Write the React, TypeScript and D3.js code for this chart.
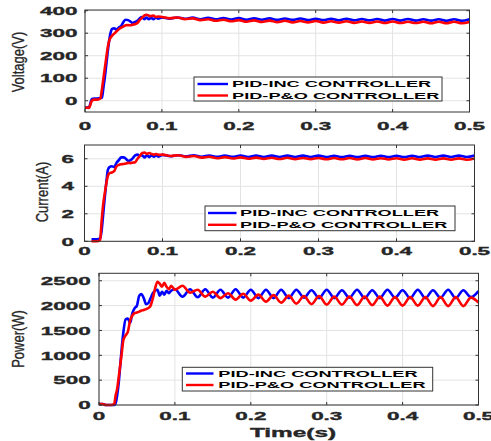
import React from "react";
import * as d3 from "d3";

// ---------- data ----------
const tTransient = [0, 0.005, 0.009, 0.012, 0.016, 0.02, 0.022, 0.024, 0.026, 0.028, 0.03, 0.032, 0.035, 0.038, 0.041, 0.044, 0.047, 0.05, 0.053, 0.056, 0.059, 0.062, 0.065, 0.068, 0.071, 0.074, 0.077, 0.08, 0.083, 0.086, 0.089, 0.092, 0.095];
const tSteady = [0.1, 0.11, 0.12, 0.13, 0.14, 0.15, 0.16, 0.17, 0.18, 0.19, 0.2, 0.21, 0.22, 0.23, 0.24, 0.25, 0.26, 0.27, 0.28, 0.29, 0.3, 0.31, 0.32, 0.33, 0.34, 0.35, 0.36, 0.37, 0.38, 0.39, 0.4, 0.41, 0.42, 0.43, 0.44, 0.45, 0.46, 0.47, 0.48, 0.49, 0.5];

const voltageIncTr = [-30, -30, 8, 10, 10, 12, 14, 60, 110, 170, 230, 280, 318, 322, 316, 325, 332, 350, 360, 358, 352, 345, 350, 355, 365, 372, 362, 370, 362, 368, 362, 370, 364];
const voltagePoTr = [-30, -32, 0, 5, 5, 10, 50, 100, 150, 200, 245, 272, 288, 298, 308, 318, 325, 330, 335, 336, 335, 338, 340, 345, 358, 368, 378, 382, 378, 376, 378, 372, 374];
const voltageIncSt = [370, 364, 370, 364, 369, 362, 368, 362, 367, 361, 367, 360, 366, 360, 366, 359, 365, 359, 365, 358, 364, 358, 364, 357, 364, 357, 363, 357, 363, 356, 363, 356, 363, 356, 362, 356, 362, 355, 362, 355, 362];
const voltagePoSt = [372, 366, 370, 362, 366, 358, 362, 355, 360, 353, 358, 351, 357, 350, 356, 349, 355, 348, 354, 348, 354, 347, 353, 347, 353, 346, 352, 346, 352, 345, 352, 345, 351, 345, 351, 344, 351, 344, 351, 344, 350];

const currentIncTr = [null, null, 0.15, 0.15, 0.15, 0.2, 0.8, 2.0, 3.2, 4.3, 5.2, 5.4, 5.45, 5.4, 5.7, 5.9, 6.1, 6.1, 6.0, 5.85, 5.9, 6.05, 6.25, 6.3, 6.2, 6.25, 6.1, 6.25, 6.12, 6.25, 6.15, 6.25, 6.15];
const currentPoTr = [null, null, 0, 0, 0, 0.1, 1.5, 2.7, 3.5, 4.2, 4.75, 4.95, 5.0, 5.1, 5.45, 5.55, 5.6, 5.62, 5.65, 5.7, 5.68, 5.72, 5.75, 6.0, 6.2, 6.42, 6.45, 6.35, 6.42, 6.35, 6.3, 6.35, 6.28];
const currentIncSt = [6.28, 6.18, 6.26, 6.17, 6.25, 6.15, 6.24, 6.14, 6.24, 6.14, 6.24, 6.13, 6.23, 6.13, 6.23, 6.13, 6.23, 6.12, 6.23, 6.12, 6.23, 6.12, 6.22, 6.12, 6.22, 6.12, 6.22, 6.12, 6.22, 6.12, 6.22, 6.12, 6.22, 6.12, 6.23, 6.12, 6.23, 6.12, 6.23, 6.13, 6.24];
const currentPoSt = [6.3, 6.2, 6.25, 6.14, 6.2, 6.08, 6.15, 6.04, 6.12, 6.02, 6.1, 6.0, 6.08, 5.99, 6.07, 5.98, 6.07, 5.97, 6.06, 5.97, 6.06, 5.96, 6.05, 5.96, 6.05, 5.95, 6.05, 5.95, 6.04, 5.95, 6.04, 5.94, 6.04, 5.94, 6.03, 5.94, 6.03, 5.93, 6.03, 5.93, 6.02];

const powerIncTr = [20, 20, 0, 0, 0, 0, 40, 200, 450, 800, 1150, 1450, 1720, 1740, 1650, 1850, 1950, 2000, 2200, 2230, 2150, 2030, 2050, 2150, 2250, 2300, 2320, 2200, 2280, 2220, 2300, 2250, 2300];
const powerPoTr = [20, 20, 0, 0, 0, 20, 200, 330, 560, 800, 1050, 1300, 1400, 1470, 1700, 1800, 1850, 1860, 1880, 1900, 1910, 1930, 1950, 2000, 2150, 2350, 2480, 2440, 2380, 2460, 2380, 2330, 2400];
const powerIncSt = [2330, 2180, 2330, 2170, 2330, 2160, 2320, 2160, 2330, 2160, 2320, 2150, 2320, 2150, 2320, 2150, 2320, 2160, 2310, 2150, 2320, 2150, 2310, 2160, 2320, 2150, 2310, 2150, 2320, 2160, 2310, 2150, 2320, 2150, 2310, 2160, 2320, 2150, 2310, 2170, 2290];
const powerPoSt = [2320, 2400, 2260, 2320, 2180, 2280, 2150, 2250, 2120, 2240, 2100, 2220, 2080, 2210, 2060, 2200, 2040, 2190, 2030, 2190, 2020, 2180, 2020, 2180, 2010, 2180, 2010, 2180, 2000, 2170, 2000, 2170, 2000, 2170, 1990, 2170, 1990, 2170, 1990, 2160, 2060];

const xTicks = [0, 0.1, 0.2, 0.3, 0.4, 0.5];
const voltageTicks = [0, 100, 200, 300, 400];
const currentTicks = [0, 2, 4, 6];
const powerTicks = [0, 500, 1000, 1500, 2000, 2500];
const legendLabels = ["PID-INC CONTROLLER", "PID-P&O CONTROLLER"];
const seriesColors = ["#0000ff", "#ff0000"];

type Pt = { t: number; v: number | null };
const join = (tr: (number | null)[], st: number[]): Pt[] => [
  ...tTransient.map((t, i) => ({ t, v: tr[i] })),
  ...tSteady.map((t, i) => ({ t, v: st[i] })),
];

// ---------- layout ----------
const SX = 1.95;
const FONT = "'Liberation Sans', Arial, sans-serif";
const panels = [
  {
    ylabel: "Voltage(V)", x0: 85, x1: 469.5, y0: 112, y1: 10, dom: [-50, 403], ticks: voltageTicks,
    series: [join(voltageIncTr, voltageIncSt), join(voltagePoTr, voltagePoSt)],
    labelX: 24, labelY: 62, tickBase: 130, tickRight: 77.5,
    legend: { x: 194, y: 77, w: 248, h: 24, lx0: 197.5, lx1: 228, tx: 232, r1: 84, r2: 95.5 },
  },
  {
    ylabel: "Current(A)", x0: 84.5, x1: 474.5, y0: 241.3, y1: 145, dom: [0, 7], ticks: currentTicks,
    series: [join(currentIncTr, currentIncSt), join(currentPoTr, currentPoSt)],
    labelX: 48, labelY: 192, tickBase: 255, tickRight: 74,
    legend: { x: 205, y: 206, w: 250, h: 24.7, lx0: 208, lx1: 236.5, tx: 240, r1: 213, r2: 224.8 },
  },
  {
    ylabel: "Power(W)", x0: 99, x1: 478.5, y0: 405, y1: 273.3, dom: [0, 2650], ticks: powerTicks,
    series: [join(powerIncTr, powerIncSt), join(powerPoTr, powerPoSt)],
    labelX: 24, labelY: 339, tickBase: 419.5, tickRight: 90.7,
    legend: { x: 182.3, y: 367.3, w: 250.4, h: 23.7, lx0: 186, lx1: 213.5, tx: 218.3, r1: 373.5, r2: 385 },
  },
];

function Panel({ p }: { p: (typeof panels)[number] }) {
  const x = d3.scaleLinear().domain([0, 0.5]).range([p.x0, p.x1]);
  const y = d3.scaleLinear().domain(p.dom).range([p.y0, p.y1]);
  const line = d3
    .line<Pt>()
    .defined((d) => d.v !== null)
    .x((d) => x(d.t))
    .y((d) => y(d.v as number))
    .curve(d3.curveMonotoneX);
  const L = p.legend;
  return (
    <g>
      <rect x={p.x0} y={p.y1} width={p.x1 - p.x0} height={p.y0 - p.y1} fill="#fff" />
      {xTicks.map((t) => (
        <line key={"gx" + t} x1={x(t)} x2={x(t)} y1={p.y0} y2={p.y1} stroke="#e3e3e3" strokeWidth={1} />
      ))}
      {p.ticks.map((v) => (
        <line key={"gy" + v} x1={p.x0} x2={p.x1} y1={y(v)} y2={y(v)} stroke="#e3e3e3" strokeWidth={1} />
      ))}
      {p.series.map((s, i) => (
        <path key={i} d={line(s) || ""} fill="none" stroke={seriesColors[i]} strokeWidth={2.6} strokeLinejoin="round" />
      ))}
      <rect x={p.x0} y={p.y1} width={p.x1 - p.x0} height={p.y0 - p.y1} fill="none" stroke="#333" strokeWidth={1} />
      {xTicks.map((t) => (
        <g key={"tx" + t}>
          <line x1={x(t)} x2={x(t)} y1={p.y0} y2={p.y0 - 3} stroke="#333" />
          <line x1={x(t)} x2={x(t)} y1={p.y1} y2={p.y1 + 3} stroke="#333" />
          <text
            transform={`translate(${x(t)},${p.tickBase}) scale(${SX},1)`}
            textAnchor="middle"
            fontFamily={FONT}
            fontWeight="bold"
            fontSize={11.5}
            fill="#262626"
            stroke="#262626"
            strokeWidth={0.35}
          >
            {String(t)}
          </text>
        </g>
      ))}
      {p.ticks.map((v) => (
        <g key={"ty" + v}>
          <line x1={p.x0} x2={p.x0 + 3} y1={y(v)} y2={y(v)} stroke="#333" />
          <line x1={p.x1} x2={p.x1 - 3} y1={y(v)} y2={y(v)} stroke="#333" />
          <text
            transform={`translate(${p.tickRight},${y(v) + 4.2}) scale(${SX},1)`}
            textAnchor="end"
            fontFamily={FONT}
            fontWeight="bold"
            fontSize={11.5}
            fill="#262626"
            stroke="#262626"
            strokeWidth={0.35}
          >
            {String(v)}
          </text>
        </g>
      ))}
      <text
        transform={`translate(${p.labelX},${p.labelY}) rotate(-90) scale(1,1.3)`}
        textAnchor="middle"
        fontFamily={FONT}
        fontSize={13}
        fill="#262626"
        stroke="#262626"
        strokeWidth={0.25}
      >
        {p.ylabel}
      </text>
      <rect x={L.x} y={L.y} width={L.w} height={L.h} fill="#fff" stroke="#333" strokeWidth={1} />
      {legendLabels.map((lab, i) => {
        const ry = i === 0 ? L.r1 : L.r2;
        return (
          <g key={lab}>
            <line x1={L.lx0} x2={L.lx1} y1={ry} y2={ry} stroke={seriesColors[i]} strokeWidth={2.4} />
            <text
              transform={`translate(${L.tx},${ry + 3.4}) scale(1.96,1)`}
              fontFamily={FONT}
              fontWeight="bold"
              fontSize={9.3}
              fill="#000"
            >
              {lab}
            </text>
          </g>
        );
      })}
    </g>
  );
}

export default function App() {
  return (
    <svg width={491} height={441} style={{ position: "absolute", left: 0, top: 0, background: "#fff" }}>
      <rect width={491} height={441} fill="#fff" />
      {panels.map((p) => (
        <Panel key={p.ylabel} p={p} />
      ))}
      <text
        transform={`translate(293,436.5) scale(1.95,1)`}
        textAnchor="middle"
        fontFamily={FONT}
        fontWeight="bold"
        fontSize={12.5}
        fill="#262626"
        stroke="#262626"
        strokeWidth={0.35}
      >
        Time(s)
      </text>
    </svg>
  );
}
